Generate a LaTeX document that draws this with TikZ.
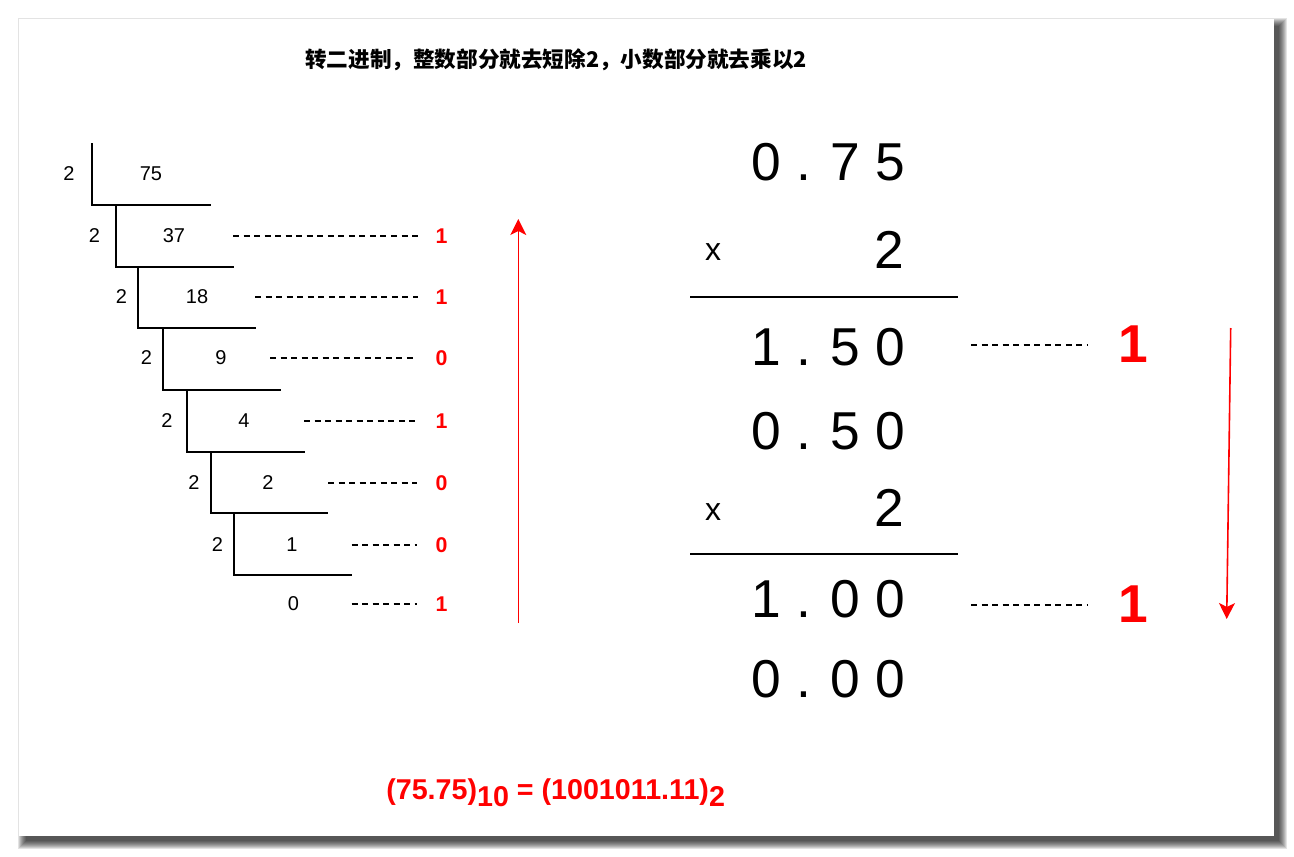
\documentclass[tikz,border=0pt]{standalone}
\usepackage{fontspec}
\setmainfont{Liberation Sans}
\newfontfamily\cjk{Noto Sans CJK SC}
\usetikzlibrary{arrows.meta}
\tikzset{
  num/.style={font=\fontsize{15}{18}\selectfont, inner sep=0pt},
  bit/.style={font=\fontsize{16}{19}\selectfont\bfseries, text=red, inner sep=0pt},
  big/.style={font=\fontsize{40}{48}\selectfont, inner sep=0pt},
  times/.style={font=\fontsize{24}{28}\selectfont, inner sep=0pt},
  bigbit/.style={font=\fontsize{40}{48}\selectfont\bfseries, text=red, inner sep=0pt},
  rulebar/.style={line width=1.1pt},
  dashline/.style={dash pattern=on 4.5pt off 3.4pt, line width=0.9pt},
  redarrow/.style={draw=red, line width=1.2pt, -{Stealth[length=12pt,width=12pt,inset=3pt]}},
}
\begin{document}
\begin{tikzpicture}[x=0.75pt,y=-0.75pt]
\useasboundingbox (0,0) rectangle (1294,856);
\fill[white] (0,0) rectangle (1294,856);
% shadow
\foreach \r in {0,...,8}{
  \fill[black,opacity=0.11] (26-\r,26-\r) rectangle (1279+\r,841+\r);
}
\fill[white] (19,19) rectangle (1274,836);

% title
\node[inner sep=0pt, font=\cjk\bfseries\fontsize{16.2}{19}\selectfont] (title) at (556,60) {转二进制，整数部分就去短除2，小数部分就去乘以2};

% ---- division ladder ----
\node[num] (d1) at (69,174) {2};
\node[num] (q1) at (151,174) {75};
\draw[rulebar] (92,143) -- (92,205) -- (211,205);

\node[num] (d2) at (94.5,236) {2};
\node[num] (q2) at (174,236) {37};
\draw[rulebar] (116,205) -- (116,267) -- (234,267);

\node[num] (d3) at (121.5,297) {2};
\node[num] (q3) at (197,297) {18};
\draw[rulebar] (138,267) -- (138,328) -- (256,328);

\node[num] (d4) at (146.5,358) {2};
\node[num] (q4) at (221,358) {9};
\draw[rulebar] (163,328) -- (163,390) -- (281,390);

\node[num] (d5) at (167,421) {2};
\node[num] (q5) at (244,421) {4};
\draw[rulebar] (187,390) -- (187,452) -- (305,452);

\node[num] (d6) at (194,483) {2};
\node[num] (q6) at (268,483) {2};
\draw[rulebar] (211,452) -- (211,513) -- (328,513);

\node[num] (d7) at (217.5,545) {2};
\node[num] (q7) at (292,545) {1};
\draw[rulebar] (234,513) -- (234,575) -- (352,575);

\node[num] (q8) at (293.5,604) {0};

% remainders
\node[bit] (r2) at (441.5,236) {1};
\node[bit] (r3) at (441.5,297) {1};
\node[bit] (r4) at (441.5,358) {0};
\node[bit] (r5) at (441.5,421) {1};
\node[bit] (r6) at (441.5,483) {0};
\node[bit] (r7) at (441.5,545) {0};
\node[bit] (r8) at (441.5,604) {1};

\coordinate (s2) at (233,236);   \coordinate (e2) at (418,236);
\coordinate (s3) at (255,297);   \coordinate (e3) at (418,297);
\coordinate (s4) at (270,358);   \coordinate (e4) at (417,358);
\coordinate (s5) at (304,421);   \coordinate (e5) at (417,421);
\coordinate (s6) at (328,483);   \coordinate (e6) at (417,483);
\coordinate (s7) at (351.5,545); \coordinate (e7) at (417,545);
\coordinate (s8) at (351.5,604); \coordinate (e8) at (417,604);
\foreach \i in {2,...,8}{ \draw[dashline] (s\i) -- (e\i); }

% up arrow
\coordinate (ua) at (518.3,623);
\coordinate (ub) at (518.3,219);
\draw[redarrow] (ua) -- (ub);

% ---- multiplication ----
\node[big] (m1) at (828.5,162) {0 . 7 5};
\node[times] (x1) at (713,252) {x};
\node[big] (t1) at (889,249.5) {2};
\coordinate (l1a) at (690,297); \coordinate (l1b) at (958,297);
\draw[line width=1.1pt] (l1a) -- (l1b);
\node[big] (p1) at (828.5,347) {1 . 5 0};
\node[big] (m2) at (828.5,431) {0 . 5 0};
\node[times] (x2) at (713,512) {x};
\node[big] (t2) at (889,507.5) {2};
\coordinate (l2a) at (690,554); \coordinate (l2b) at (958,554);
\draw[line width=1.1pt] (l2a) -- (l2b);
\node[big] (p2) at (828.5,599) {1 . 0 0};
\node[big] (m3) at (828.5,679) {0 . 0 0};

\node[bigbit] (b1) at (1133,344) {1};
\node[bigbit] (b2) at (1133,604) {1};
\coordinate (rs1) at (971,345); \coordinate (re1) at (1087,345);
\coordinate (rs2) at (971,605); \coordinate (re2) at (1087,605);
\draw[dashline] (rs1) -- (re1);
\draw[dashline] (rs2) -- (re2);

% down arrow
\coordinate (da) at (1230.7,328);
\coordinate (db) at (1226.7,619);
\draw[redarrow] (da) -- (db);

% result
\node[inner sep=0pt, anchor=base west, text=red, font=\fontsize{21.5}{26}\selectfont\bfseries] (res) at (386,799)
  {(75.75)\raisebox{-5.25pt}{10} = (1001011.11)\raisebox{-5.25pt}{2}};
\end{tikzpicture}
\end{document}
